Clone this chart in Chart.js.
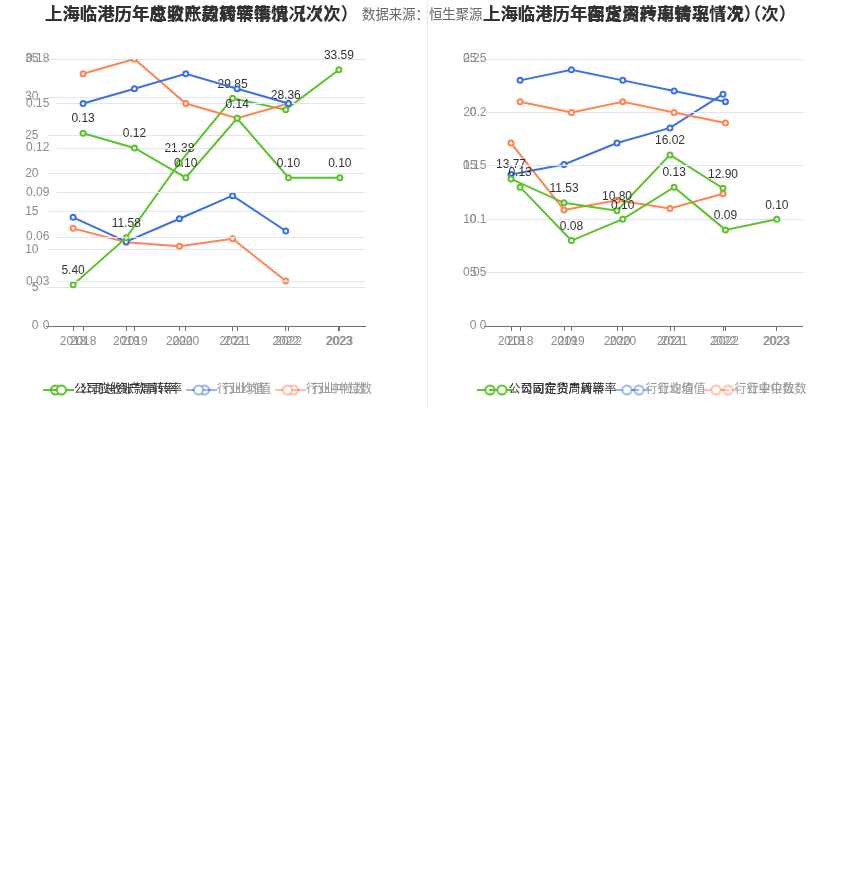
<!DOCTYPE html>
<html>
<head>
<meta charset="utf-8">
<script src="https://cdn.jsdelivr.net/npm/chart.js@4.4.1/dist/chart.umd.min.js"></script>
<style>
  html, body { margin: 0; padding: 0; background: #fff; }
  body { width: 850px; height: 890px; position: relative; overflow: hidden;
         font-family: 'Liberation Sans', 'Noto Sans CJK SC', sans-serif; }
  .box { position: absolute; top: 0; width: 400px; height: 410px; }
  .title { position: absolute; top: 2px; font-size: 17.4px; line-height: 22px; font-weight: bold;
           color: #333; white-space: nowrap; font-family: 'Noto Sans CJK SC', sans-serif; }
  .source { position: absolute; top: 3px; left: 362px; font-size: 13.4px; line-height: 20px;
            color: #666; white-space: nowrap; font-family: 'Noto Sans CJK SC', sans-serif; }
  .sep { position: absolute; left: 427px; top: 0; width: 1px; height: 408px; background: #ececec; }
</style>
</head>
<body>
<div class="sep"></div>
<div class="box" style="left:0"><canvas id="cA"></canvas></div>
<div class="box" style="left:0"><canvas id="cB"></canvas></div>
<div class="box" style="left:437px"><canvas id="cC"></canvas></div>
<div class="box" style="left:437px"><canvas id="cD"></canvas></div>
<div class="title" style="left:45px">上海临港历年应收账款周转率情况（次）</div>
<div class="title" style="left:45px">上海临港历年总资产周转率情况（次）</div>
<div class="source">数据来源：恒生聚源</div>
<div class="title" style="left:483px">上海临港历年固定资产周转率情况（次）</div>
<div class="title" style="left:483px">上海临港历年存货周转率情况（次）</div>
<script>
// ---------- data ----------
const years = ['2018', '2019', '2020', '2021', '2022', '2023'];

// 应收账款周转率 (left panel, scale 0-35)
const arCompany = [5.40, 11.58, 21.38, 29.85, 28.36, 33.59];
const arIndustryMean = [14.25, 11.05, 14.06, 17.08, 12.45, null];
const arIndustryMedian = [12.80, 10.97, 10.45, 11.44, 5.90, null];

// 总资产周转率 (left panel, scale 0-0.18)
const taCompany = [0.13, 0.12, 0.10, 0.14, 0.10, 0.10];
const taIndustryMean = [0.15, 0.16, 0.17, 0.16, 0.15, null];
const taIndustryMedian = [0.17, 0.18, 0.15, 0.14, 0.15, null];

// 固定资产周转率 (right panel, scale 0-25)
const faCompany = [13.77, 11.53, 10.80, 16.02, 12.90, null];
const faIndustryMean = [14.19, 15.13, 17.13, 18.55, 21.71, null];
const faIndustryMedian = [17.13, 10.87, 11.78, 11.00, 12.38, null];

// 存货周转率 (right panel, scale 0-0.25)
const invCompany = [0.13, 0.08, 0.10, 0.13, 0.09, 0.10];
const invIndustryMean = [0.23, 0.24, 0.23, 0.22, 0.21, null];
const invIndustryMedian = [0.21, 0.20, 0.21, 0.20, 0.19, null];

const seriesNames = {
  A: ['公司应收账款周转率', '行业均值', '行业中位数'],
  B: ['公司总资产周转率', '行业均值', '行业中位数'],
  C: ['公司固定资产周转率', '行业均值', '行业中位数'],
  D: ['公司存货周转率', '行业均值', '行业中位数']
};

// ---------- styles ----------
const GREEN = '#5ac42a', BLUE = '#3b72e3', ORANGE = '#ff8450';
const FONT = "'Liberation Sans', 'Noto Sans CJK SC', sans-serif";
Chart.defaults.font.family = FONT;
Chart.defaults.font.size = 12;

function makeIcon(color) {
  const c = document.createElement('canvas');
  c.width = 25; c.height = 14;
  const g = c.getContext('2d');
  g.strokeStyle = color; g.lineWidth = 2;
  g.beginPath(); g.moveTo(0, 7); g.lineTo(25, 7); g.stroke();
  g.beginPath(); g.arc(12.5, 7, 4.5, 0, Math.PI * 2);
  g.fillStyle = '#fff'; g.fill(); g.stroke();
  return c;
}
const icons = [makeIcon(GREEN), makeIcon('rgba(59,114,227,0.5)'), makeIcon('rgba(255,132,80,0.5)')];
const legendTextColors = ['#333', '#999', '#999'];

const valueLabels = {
  id: 'valueLabels',
  afterDatasetsDraw(chart, args, opts) {
    const ctx = chart.ctx;
    const meta = chart.getDatasetMeta(0);
    const data = chart.data.datasets[0].data;
    ctx.save();
    ctx.font = '12px ' + FONT;
    ctx.fillStyle = '#333';
    ctx.textAlign = 'center';
    ctx.textBaseline = 'middle';
    meta.data.forEach((pt, i) => {
      if (data[i] === null || data[i] === undefined) return;
      ctx.fillText(data[i].toFixed(2), pt.x, pt.y - 14);
    });
    ctx.restore();
  }
};

const legendShift = {
  id: 'legendShift',
  afterLayout(chart, args, opts) {
    const l = chart.legend;
    if (l && opts && opts.dx) { l.left += opts.dx; l.right += opts.dx; }
  }
};

function ds(label, data, color) {
  return {
    label, data,
    borderColor: color, backgroundColor: color,
    borderWidth: 2, tension: 0,
    pointRadius: 2.5, pointHoverRadius: 2.5,
    pointBorderWidth: 2, pointBackgroundColor: '#fff', pointBorderColor: color,
    spanGaps: false
  };
}

function build(id, names, series, yMax, yStep, yAxisWidth, dx, decimals) {
  new Chart(document.getElementById(id), {
    type: 'line',
    data: {
      labels: years,
      datasets: [
        ds(names[0], series[0], GREEN),
        ds(names[1], series[1], BLUE),
        ds(names[2], series[2], ORANGE)
      ]
    },
    plugins: [valueLabels, legendShift],
    options: {
      responsive: true, maintainAspectRatio: false, animation: false,
      events: [],
      layout: { padding: { left: 0, right: 34.5, top: 59, bottom: 4 } },
      plugins: {
        title: { display: false },
        tooltip: { enabled: false },
        legendShift: { dx },
        legend: {
          display: true, position: 'bottom',
          labels: {
            usePointStyle: true, pointStyleWidth: 25, boxHeight: 12,
            padding: 10, font: { size: 12 },
            generateLabels(chart) {
              const items = Chart.defaults.plugins.legend.labels.generateLabels(chart);
              return items.map((it, i) => Object.assign(it, {
                pointStyle: icons[i], fontColor: legendTextColors[i]
              }));
            }
          }
        }
      },
      scales: {
        x: {
          type: 'category', offset: true,
          grid: { display: true, drawOnChartArea: false, drawTicks: true, tickLength: 5, color: '#6E7079', offset: false },
          border: { display: true, color: '#6E7079', width: 1 },
          ticks: { color: '#8c8c8c', font: { size: 12 }, padding: 3, maxRotation: 0, autoSkip: false },
          afterFit(scale) { scale.height = 48; }
        },
        y: {
          min: 0, max: yMax,
          grid: { color: '#E0E6F1', drawTicks: false, lineWidth: 1 },
          border: { display: false },
          ticks: {
            stepSize: yStep, padding: 8, color: '#8c8c8c', font: { size: 12 },
            callback: v => String(Number(v.toFixed(decimals)))
          },
          afterFit(scale) { scale.width = yAxisWidth; }
        }
      }
    }
  });
}

build('cA', seriesNames.A, [arCompany, arIndustryMean, arIndustryMedian], 35, 5, 46.5, 24.75, 0);
build('cB', seriesNames.B, [taCompany, taIndustryMean, taIndustryMedian], 0.18, 0.03, 57.4, 24.75, 2);
build('cC', seriesNames.C, [faCompany, faIndustryMean, faIndustryMedian], 25, 5, 47.5, 22.25, 0);
build('cD', seriesNames.D, [invCompany, invIndustryMean, invIndustryMedian], 0.25, 0.05, 57.4, 22.25, 2);
</script>
</body>
</html>
